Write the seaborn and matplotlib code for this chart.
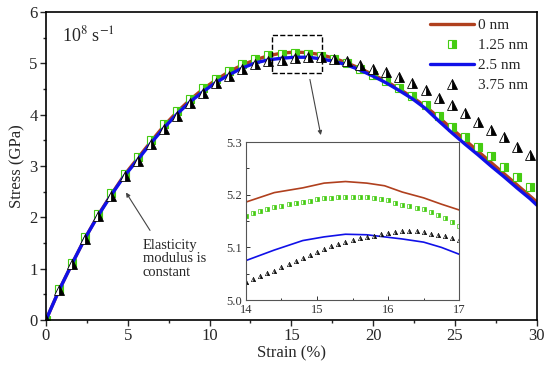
import matplotlib
matplotlib.use("Agg")
import matplotlib.pyplot as plt
import matplotlib.patches as patches
import seaborn as sns

# main curves, strain (%) vs stress (GPa)
strain = [0, 0.8, 1.6, 2.4, 3.2, 4.0, 4.8, 5.6, 6.4, 7.2, 8.0, 8.8, 9.6, 10.4, 11.2, 12.0,
          12.8, 13.6, 14.4, 15.2, 16.0, 16.8, 17.6, 18.4, 19.2, 20.0, 20.8, 21.6, 22.4, 23.2,
          24.0, 24.8, 25.6, 26.4, 27.2, 28.0, 28.8, 29.6, 30.0]
stress_0nm = [0, 0.58, 1.10, 1.60, 2.05, 2.45, 2.83, 3.15, 3.47, 3.78, 4.05, 4.29, 4.50, 4.68,
              4.84, 4.97, 5.07, 5.15, 5.20, 5.22, 5.21, 5.17, 5.10, 5.01, 4.90, 4.78, 4.65,
              4.50, 4.34, 4.16, 3.95, 3.73, 3.51, 3.29, 3.07, 2.85, 2.63, 2.41, 2.30]
stress_2_5nm = [0, 0.58, 1.10, 1.60, 2.04, 2.44, 2.81, 3.12, 3.44, 3.74, 4.01, 4.25, 4.45, 4.63,
                4.78, 4.91, 5.01, 5.07, 5.10, 5.12, 5.12, 5.09, 5.04, 4.97, 4.87, 4.75, 4.62,
                4.47, 4.31, 4.12, 3.88, 3.65, 3.43, 3.22, 3.00, 2.79, 2.57, 2.36, 2.24]

strain_pts = [0, 0.8, 1.6, 2.4, 3.2, 4.0, 4.8, 5.6, 6.4, 7.2, 8.0, 8.8, 9.6, 10.4, 11.2, 12.0,
              12.8, 13.6, 14.4, 15.2, 16.0, 16.8, 17.6, 18.4, 19.2, 20.0, 20.8, 21.6, 22.4, 23.2,
              24.0, 24.8, 25.6, 26.4, 27.2, 28.0, 28.8, 29.6]
stress_1_25nm = [0, 0.60, 1.12, 1.62, 2.07, 2.47, 2.85, 3.17, 3.50, 3.81, 4.07, 4.31, 4.52, 4.70,
                 4.86, 4.99, 5.09, 5.16, 5.19, 5.20, 5.19, 5.15, 5.08, 5.00, 4.89, 4.77, 4.66,
                 4.52, 4.36, 4.18, 3.98, 3.77, 3.56, 3.37, 3.19, 2.99, 2.78, 2.60]
stress_3_75nm = [0, 0.58, 1.10, 1.58, 2.02, 2.42, 2.80, 3.10, 3.42, 3.72, 3.98, 4.22, 4.43, 4.61,
                 4.76, 4.89, 4.98, 5.04, 5.07, 5.10, 5.13, 5.12, 5.09, 5.04, 4.97, 4.89, 4.83,
                 4.74, 4.62, 4.48, 4.32, 4.19, 4.03, 3.86, 3.70, 3.56, 3.38, 3.22]

# inset (zoom on the peak)
inset_line_x = [14.0, 14.4, 14.8, 15.1, 15.4, 15.7, 15.95, 16.2, 16.5, 16.75, 17.0]
inset_0nm = [5.186, 5.204, 5.213, 5.222, 5.225, 5.222, 5.217, 5.205, 5.194, 5.182, 5.171]
inset_2_5nm = [5.075, 5.095, 5.113, 5.120, 5.125, 5.124, 5.120, 5.116, 5.110, 5.100, 5.087]

inset_pts_x = [14.0, 14.1, 14.2, 14.3, 14.4, 14.5, 14.6, 14.7, 14.8, 14.9, 15.0, 15.1, 15.2,
               15.3, 15.4, 15.5, 15.6, 15.7, 15.8, 15.9, 16.0, 16.1, 16.2, 16.3, 16.4, 16.5,
               16.6, 16.7, 16.8, 16.9, 17.0]
inset_1_25nm = [5.160, 5.165, 5.169, 5.173, 5.176, 5.179, 5.182, 5.185, 5.187, 5.189, 5.191,
                5.193, 5.194, 5.195, 5.196, 5.196, 5.196, 5.195, 5.194, 5.192, 5.190, 5.184,
                5.180, 5.178, 5.175, 5.172, 5.167, 5.162, 5.156, 5.148, 5.140]
inset_3_75nm = [5.035, 5.041, 5.046, 5.051, 5.056, 5.062, 5.068, 5.074, 5.080, 5.086, 5.092,
                5.097, 5.102, 5.107, 5.111, 5.115, 5.118, 5.120, 5.122, 5.125, 5.127, 5.130,
                5.131, 5.132, 5.131, 5.129, 5.126, 5.124, 5.121, 5.118, 5.114]

brown = '#B0401E'
green = '#44CC11'
blue = '#1010E8'

sns.set_style('ticks')
plt.rcParams['font.family'] = ['Liberation Serif', 'DejaVu Serif']
plt.rcParams['mathtext.fontset'] = 'stix'

fig = plt.figure(figsize=(5.5, 3.66), dpi=100)
ax = fig.add_axes([0.0836, 0.1257, 0.8924, 0.8413])

sns.lineplot(x=strain, y=stress_0nm, ax=ax, color=brown, lw=2.4, sort=False,
             estimator=None, label='0 nm')
sns.lineplot(x=strain_pts, y=stress_1_25nm, ax=ax, color=green, linestyle='', marker='s',
             markersize=6, fillstyle='right', markerfacecoloralt='white',
             markeredgecolor=green, markeredgewidth=0.8, sort=False, estimator=None,
             label='1.25 nm')
sns.lineplot(x=strain, y=stress_2_5nm, ax=ax, color=blue, lw=2.4, sort=False,
             estimator=None, label='2.5 nm')
sns.lineplot(x=strain_pts, y=stress_3_75nm, ax=ax, color='black', linestyle='', marker='^',
             markersize=7, fillstyle='right', markerfacecoloralt='white',
             markeredgecolor='black', markeredgewidth=0.6, sort=False, estimator=None,
             label='3.75 nm')

ax.set_xlim(0, 30)
ax.set_ylim(0, 6)
ax.set_xticks([0, 5, 10, 15, 20, 25, 30])
ax.set_xticks([2.5, 7.5, 12.5, 17.5, 22.5, 27.5], minor=True)
ax.set_yticks([0, 1, 2, 3, 4, 5, 6])
ax.set_yticks([0.5, 1.5, 2.5, 3.5, 4.5, 5.5], minor=True)
ax.tick_params(which='major', direction='out', length=4, width=1, labelsize=12, pad=2)
ax.tick_params(which='minor', direction='out', length=2.5, width=1)
for s in ax.spines.values():
    s.set_linewidth(1.2)
    s.set_color('black')
ax.set_xlabel('Strain (%)', fontsize=12, labelpad=1)
ax.set_ylabel('Stress (GPa)', fontsize=12, labelpad=3)

ax.text(1.0, 5.55, r'10$^{8}$ s$^{-1}$', fontsize=13, va='center', ha='left')

ax.legend(loc='upper right', bbox_to_anchor=(1.0, 1.01), frameon=False, fontsize=11,
          handlelength=2.9, handletextpad=0.2, labelspacing=0.42, borderaxespad=0.2)

# dashed box around the peak and arrow to the inset
ax.add_patch(patches.Rectangle((13.8, 4.81), 3.1, 0.75, fill=False, ls='--',
                               lw=1, color='black', zorder=5))
ax.annotate('', xy=(16.83, 3.55), xytext=(16.1, 4.74),
            arrowprops=dict(arrowstyle='-|>', color='#444444', lw=0.8,
                            mutation_scale=6))

ax.annotate('', xy=(4.8, 2.53), xytext=(6.45, 1.70),
            arrowprops=dict(arrowstyle='-|>', color='#444444', lw=0.8,
                            mutation_scale=6))
ax.text(5.9, 1.58, 'Elasticity\nmodulus is\nconstant', fontsize=10.5, va='top', ha='left',
        linespacing=1.05)

# inset
ins = fig.add_axes([0.447, 0.180, 0.388, 0.432])
sns.lineplot(x=inset_line_x, y=inset_0nm, ax=ins, color=brown, lw=1.2, sort=False,
             estimator=None, legend=False)
sns.lineplot(x=inset_pts_x, y=inset_1_25nm, ax=ins, color=green, linestyle='', marker='s',
             markersize=3.2, fillstyle='right', markerfacecoloralt='white',
             markeredgecolor=green, markeredgewidth=0.5, sort=False, estimator=None,
             legend=False)
sns.lineplot(x=inset_line_x, y=inset_2_5nm, ax=ins, color=blue, lw=1.2, sort=False,
             estimator=None, legend=False)
sns.lineplot(x=inset_pts_x, y=inset_3_75nm, ax=ins, color='black', linestyle='', marker='^',
             markersize=3.2, fillstyle='right', markerfacecoloralt='white',
             markeredgecolor='black', markeredgewidth=0.4, sort=False, estimator=None,
             legend=False)
ins.set_xlim(14, 17)
ins.set_ylim(5.0, 5.3)
ins.set_xticks([14, 15, 16, 17])
ins.set_xticks([14.5, 15.5, 16.5], minor=True)
ins.set_yticks([5.0, 5.1, 5.2, 5.3])
ins.set_yticks([5.05, 5.15, 5.25], minor=True)
ins.set_yticklabels(['5.0', '5.1', '5.2', '5.3'])
ins.tick_params(which='major', direction='in', length=3, width=0.7, labelsize=9,
                colors='#333333', pad=3)
ins.tick_params(which='minor', direction='in', length=1.8, width=0.7, colors='#333333')
for s in ins.spines.values():
    s.set_linewidth(0.8)
    s.set_color('#555555')
ins.set_xlabel('')
ins.set_ylabel('')

fig.savefig('out.png', dpi=100)
